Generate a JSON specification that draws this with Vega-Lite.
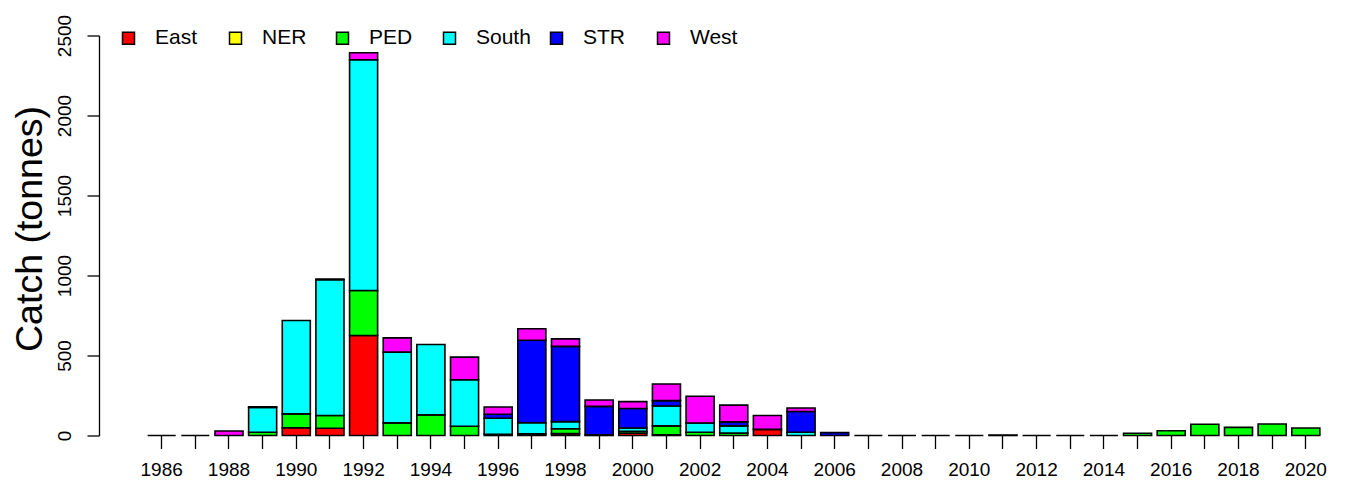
{
  "$schema": "https://vega.github.io/schema/vega-lite/v6.json",
  "width": 1187.5,
  "height": 400,
  "autosize": {"type": "none"},
  "padding": {"left": 140, "top": 35.5, "right": 18.5, "bottom": 52.5},
  "background": "white",
  "config": {
    "view": {"stroke": null},
    "font": "Liberation Sans",
    "axis": {"labelFont": "Liberation Sans", "titleFont": "Liberation Sans", "labelColor": "black", "titleColor": "black", "grid": false}
  },
  "data": {
    "values": [
      {"year": 1986, "region": "East", "catch": 0},
      {"year": 1987, "region": "East", "catch": 0},
      {"year": 1988, "region": "West", "catch": 28},
      {"year": 1989, "region": "PED", "catch": 20},
      {"year": 1989, "region": "South", "catch": 155},
      {"year": 1989, "region": "West", "catch": 5},
      {"year": 1990, "region": "East", "catch": 48},
      {"year": 1990, "region": "PED", "catch": 87},
      {"year": 1990, "region": "South", "catch": 584},
      {"year": 1991, "region": "East", "catch": 45},
      {"year": 1991, "region": "PED", "catch": 80},
      {"year": 1991, "region": "South", "catch": 848},
      {"year": 1991, "region": "West", "catch": 5},
      {"year": 1992, "region": "East", "catch": 625},
      {"year": 1992, "region": "PED", "catch": 281},
      {"year": 1992, "region": "South", "catch": 1442},
      {"year": 1992, "region": "West", "catch": 44},
      {"year": 1993, "region": "PED", "catch": 79},
      {"year": 1993, "region": "South", "catch": 442},
      {"year": 1993, "region": "West", "catch": 89},
      {"year": 1994, "region": "PED", "catch": 129},
      {"year": 1994, "region": "South", "catch": 440},
      {"year": 1995, "region": "PED", "catch": 58},
      {"year": 1995, "region": "South", "catch": 290},
      {"year": 1995, "region": "West", "catch": 142},
      {"year": 1996, "region": "PED", "catch": 8},
      {"year": 1996, "region": "South", "catch": 100},
      {"year": 1996, "region": "STR", "catch": 25},
      {"year": 1996, "region": "West", "catch": 45},
      {"year": 1997, "region": "PED", "catch": 10},
      {"year": 1997, "region": "South", "catch": 70},
      {"year": 1997, "region": "STR", "catch": 515},
      {"year": 1997, "region": "West", "catch": 72},
      {"year": 1998, "region": "East", "catch": 12},
      {"year": 1998, "region": "PED", "catch": 30},
      {"year": 1998, "region": "South", "catch": 45},
      {"year": 1998, "region": "STR", "catch": 470},
      {"year": 1998, "region": "West", "catch": 47},
      {"year": 1999, "region": "PED", "catch": 5},
      {"year": 1999, "region": "STR", "catch": 177},
      {"year": 1999, "region": "West", "catch": 40},
      {"year": 2000, "region": "East", "catch": 15},
      {"year": 2000, "region": "PED", "catch": 12},
      {"year": 2000, "region": "South", "catch": 20},
      {"year": 2000, "region": "STR", "catch": 122},
      {"year": 2000, "region": "West", "catch": 43},
      {"year": 2001, "region": "East", "catch": 5},
      {"year": 2001, "region": "PED", "catch": 55},
      {"year": 2001, "region": "South", "catch": 124},
      {"year": 2001, "region": "STR", "catch": 34},
      {"year": 2001, "region": "West", "catch": 104},
      {"year": 2002, "region": "PED", "catch": 20},
      {"year": 2002, "region": "South", "catch": 58},
      {"year": 2002, "region": "West", "catch": 167},
      {"year": 2003, "region": "PED", "catch": 15},
      {"year": 2003, "region": "South", "catch": 45},
      {"year": 2003, "region": "STR", "catch": 25},
      {"year": 2003, "region": "West", "catch": 105},
      {"year": 2004, "region": "East", "catch": 38},
      {"year": 2004, "region": "West", "catch": 87},
      {"year": 2005, "region": "South", "catch": 20},
      {"year": 2005, "region": "STR", "catch": 130},
      {"year": 2005, "region": "West", "catch": 22},
      {"year": 2006, "region": "STR", "catch": 18},
      {"year": 2007, "region": "East", "catch": 0},
      {"year": 2008, "region": "East", "catch": 0},
      {"year": 2009, "region": "East", "catch": 0},
      {"year": 2010, "region": "East", "catch": 0},
      {"year": 2011, "region": "PED", "catch": 3},
      {"year": 2012, "region": "East", "catch": 0},
      {"year": 2013, "region": "East", "catch": 0},
      {"year": 2014, "region": "East", "catch": 0},
      {"year": 2015, "region": "PED", "catch": 14},
      {"year": 2016, "region": "PED", "catch": 30},
      {"year": 2017, "region": "PED", "catch": 70},
      {"year": 2018, "region": "PED", "catch": 51},
      {"year": 2019, "region": "PED", "catch": 72},
      {"year": 2020, "region": "PED", "catch": 47}
    ]
  },
  "transform": [
    {"calculate": "indexof(['East','NER','PED','South','STR','West'], datum.region)", "as": "stackOrder"}
  ],
  "mark": {"type": "bar", "stroke": "black", "strokeWidth": 1.6, "strokeJoin": "miter"},
  "encoding": {
    "x": {
      "field": "year",
      "type": "ordinal",
      "scale": {"paddingInner": 0.1667, "paddingOuter": 0.228},
      "axis": {
        "title": null,
        "domain": false,
        "ticks": true,
        "tickColor": "black",
        "tickWidth": 1.3,
        "tickSize": 13,
        "labelAngle": 0,
        "labelFontSize": 19,
        "labelPadding": 12,
        "labelExpr": "datum.value % 2 == 0 ? datum.label : ''"
      }
    },
    "y": {
      "field": "catch",
      "type": "quantitative",
      "stack": "zero",
      "scale": {"domain": [0, 2500], "nice": false},
      "axis": {
        "title": "Catch (tonnes)",
        "titleFontSize": 37.5,
        "titleFontWeight": "normal",
        "titlePadding": 6,
        "titleY": 193,
        "offset": 41,
        "values": [0, 500, 1000, 1500, 2000, 2500],
        "format": "d",
        "domainColor": "black",
        "domainWidth": 1.3,
        "tickColor": "black",
        "tickWidth": 1.3,
        "tickSize": 12,
        "labelAngle": 270,
        "labelAlign": "center",
        "labelBaseline": "bottom",
        "labelFontSize": 19,
        "labelPadding": 13
      }
    },
    "color": {
      "field": "region",
      "type": "nominal",
      "scale": {
        "domain": ["East", "NER", "PED", "South", "STR", "West"],
        "range": ["#FF0000", "#FFFF00", "#00FF00", "#00FFFF", "#0000FF", "#FF00FF"]
      },
      "legend": {
        "title": null,
        "orient": "none",
        "legendX": -22,
        "legendY": -8,
        "direction": "horizontal",
        "gridAlign": "all",
        "columnPadding": 15,
        "labelOffset": 16,
        "labelFontSize": 21,
        "labelFont": "Liberation Sans",
        "labelColor": "black",
        "symbolType": "square",
        "symbolSize": 144,
        "symbolStrokeColor": "black",
        "symbolStrokeWidth": 1.5,
        "symbolOpacity": 1
      }
    },
    "order": {"field": "stackOrder", "type": "quantitative", "sort": "ascending"}
  }
}
